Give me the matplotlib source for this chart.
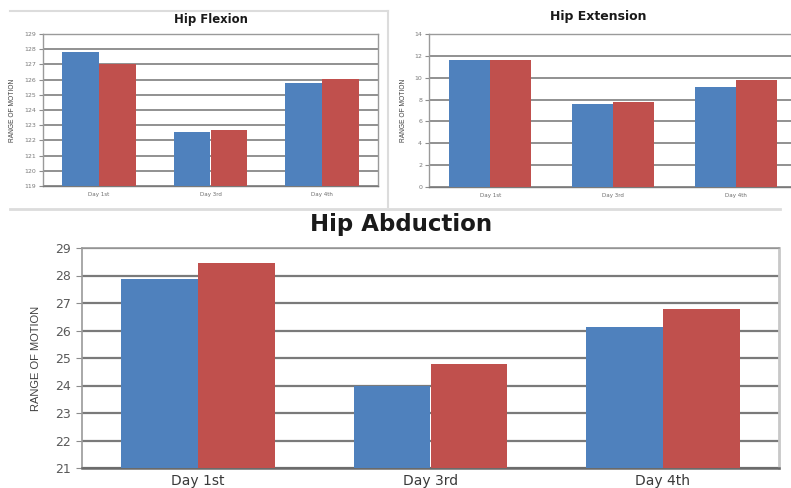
import matplotlib
matplotlib.use("Agg")
import matplotlib.pyplot as plt
from matplotlib.lines import Line2D
import numpy as np

# Range-of-motion data, two measurements per day
days = ["Day 1st", "Day 3rd", "Day 4th"]
flexion_blue = [127.8, 122.55, 125.8]
flexion_red = [127.05, 122.7, 126.05]
extension_blue = [11.65, 7.55, 9.15]
extension_red = [11.65, 7.75, 9.75]
abduction_blue = [27.86, 24.0, 26.11]
abduction_red = [28.45, 24.78, 26.77]

flex_ticks = list(range(119, 130))
ext_ticks = list(range(0, 15, 2))
abd_ticks = list(range(21, 30))

BLUE = "#4F81BD"
RED = "#C0504D"
NARROW = ["Liberation Sans Narrow", "Liberation Sans", "DejaVu Sans"]

W, H = 791, 488
fig = plt.figure(figsize=(W / 100, H / 100), dpi=100)


def px_axes(left, top, right, bottom):
    return fig.add_axes([left / W, 1 - bottom / H, (right - left) / W, (bottom - top) / H])


def draw_panel(ax, blue, red, ticks, title, grid_lw, grid_color, tick_fs, label_fs,
               xlab_fs, title_fs, title_pad, width=0.33, spine_lw=1.0):
    x = np.arange(len(days))
    ax.bar(x - width / 2, blue, width, color=BLUE, zorder=3)
    ax.bar(x + width / 2, red, width, color=RED, zorder=3)
    ax.set_xlim(-0.5, len(days) - 0.5)
    ax.set_ylim(ticks[0], ticks[-1])
    ax.set_yticks(ticks)
    ax.set_yticklabels([str(t) for t in ticks])
    ax.set_xticks(x)
    ax.set_xticklabels(days)
    ax.yaxis.grid(True, color=grid_color, lw=grid_lw, zorder=1)
    ax.set_axisbelow(True)
    ax.tick_params(axis="y", length=3, width=0.8, color="#8c8c8c", labelsize=tick_fs,
                   labelcolor="#7a7a7a", pad=2)
    ax.tick_params(axis="x", length=0, labelsize=xlab_fs, labelcolor="#6a6a6a", pad=4)
    for s in ax.spines.values():
        s.set_color("#9a9a9a")
        s.set_linewidth(spine_lw)
    ax.spines["bottom"].set_color("#7a7a7a")
    ax.set_ylabel("RANGE OF MOTION", family=NARROW, fontsize=label_fs, color="#404040")
    ax.set_title(title, fontsize=title_fs, fontweight="bold", color="#1a1a1a", pad=title_pad)


ax1 = px_axes(43, 34, 378, 186)
draw_panel(ax1, flexion_blue, flexion_red, flex_ticks, "Hip Flexion",
           grid_lw=1.3, grid_color="#888888", tick_fs=4.5, label_fs=4.8,
           xlab_fs=4.0, title_fs=8.4, title_pad=8)
ax1.yaxis.labelpad = 6

ax2 = px_axes(429, 34, 797, 187)
draw_panel(ax2, extension_blue, extension_red, ext_ticks, "Hip Extension",
           grid_lw=1.3, grid_color="#888888", tick_fs=4.5, label_fs=4.8,
           xlab_fs=4.0, title_fs=9, title_pad=10, width=0.334)
ax2.yaxis.labelpad = 5
ax2.title.set_x((598 - 429) / (797 - 429))

ax3 = px_axes(82, 248, 779, 468)
draw_panel(ax3, abduction_blue, abduction_red, abd_ticks, "Hip Abduction",
           grid_lw=1.6, grid_color="#7a7a7a", tick_fs=9, label_fs=8,
           xlab_fs=10, title_fs=16.5, title_pad=12, spine_lw=1.2)
ax3.tick_params(axis="y", length=4, labelcolor="#5a5a5a", pad=4)
ax3.tick_params(axis="x", labelcolor="#3a3a3a", pad=4)
ax3.spines["bottom"].set_linewidth(1.8)
ax3.spines["bottom"].set_color("#6a6a6a")
ax3.spines["right"].set_color("#c8c8c8")
ax3.spines["right"].set_linewidth(2)
ax3.yaxis.labelpad = 10
ax3.title.set_x((401 - 82) / (779 - 82))

# light panel frame lines around the upper-left chart and under the upper row
frame = "#dcdcdc"
fig.add_artist(Line2D([10 / W, 388 / W], [1 - 11 / H, 1 - 11 / H], color=frame, lw=1.5))
fig.add_artist(Line2D([388 / W, 388 / W], [1 - 11 / H, 1 - 207 / H], color=frame, lw=1.5))
fig.add_artist(Line2D([10 / W, 780 / W], [1 - 209 / H, 1 - 209 / H], color=frame, lw=2))

fig.savefig("out.png", dpi=100)
